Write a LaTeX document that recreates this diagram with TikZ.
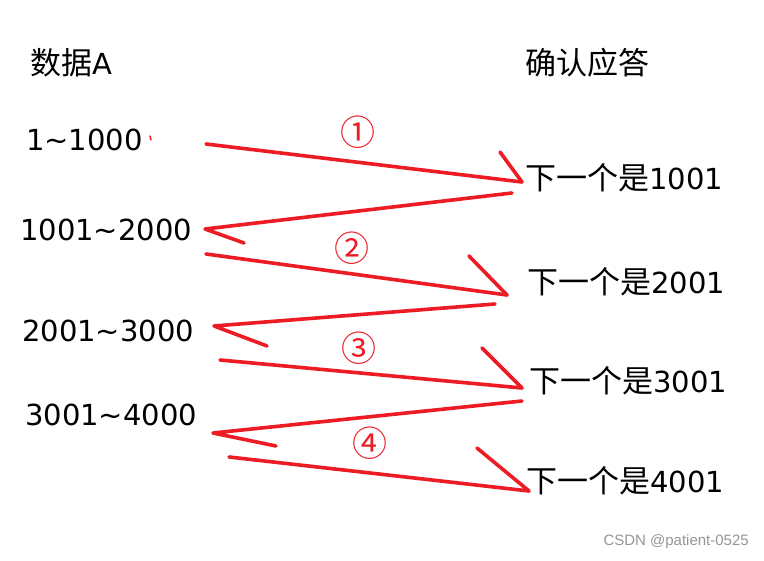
\documentclass[tikz,border=0pt]{standalone}
\usepackage{fontspec}
\setmainfont{Noto Sans CJK SC}
\newfontfamily\latf{DejaVu Sans}
\newfontfamily\wmfont{Liberation Sans}
\newcommand{\lt}[1]{{\latf\fontsize{29}{32}\selectfont #1}}
\definecolor{pen}{RGB}{237,28,36}
\definecolor{wm}{RGB}{150,150,150}
\tikzset{
  lbl/.style={inner sep=0pt, anchor=west, font=\fontsize{31}{34}\selectfont},
  circnum/.style={inner sep=0pt, text=pen, font=\fontsize{35}{38}\selectfont},
  stroke/.style={draw=pen, line width=3.6pt, line cap=round, line join=round},
}
\begin{document}
\begin{tikzpicture}[x=1pt,y=-1pt]
\useasboundingbox[fill=white] (0,0) rectangle (764,561);
% headings
\node[lbl] (hA) at (30,63) {数据\lt{A}};
\node[lbl] (hB) at (525,63) {确认应答};
% left labels
\node[lbl] (l1) at (26,140) {\lt{1\char"007E 1000}};
\node[lbl] (l2) at (20,230) {\lt{1001\char"007E 2000}};
\node[lbl] (l3) at (22,331) {\lt{2001\char"007E 3000}};
\node[lbl] (l4) at (25,415) {\lt{3001\char"007E 4000}};
% right labels
\node[lbl] (r1) at (525,178) {下一个是\lt{1001}};
\node[lbl] (r2) at (527,282) {下一个是\lt{2001}};
\node[lbl] (r3) at (529,381) {下一个是\lt{3001}};
\node[lbl] (r4) at (526,481) {下一个是\lt{4001}};
% circled numbers
\node[circnum] (c1) at (358,132) {①};
\node[circnum] (c2) at (352,248) {②};
\node[circnum] (c3) at (359,348) {③};
\node[circnum] (c4) at (370,443) {④};
% watermark
\node[inner sep=0pt, anchor=east, text=wm, font=\wmfont\fontsize{15}{17}\selectfont] (wmk) at (749,542) {CSDN @patient-0525};
% connector points
\coordinate (s1) at (206,144); \coordinate (e1) at (522,182); \coordinate (h1) at (500,152);
\coordinate (s1b) at (512,193); \coordinate (e1b) at (205,229); \coordinate (h1b) at (244,243);
\coordinate (s2) at (206,254); \coordinate (e2) at (507,295); \coordinate (h2) at (469,256);
\coordinate (s2b) at (495,304); \coordinate (e2b) at (214,326); \coordinate (h2b) at (267,346);
\coordinate (s3) at (220,360); \coordinate (e3) at (522,388); \coordinate (h3) at (482,348);
\coordinate (s3b) at (522,401); \coordinate (e3b) at (213,433); \coordinate (h3b) at (276,446);
\coordinate (s4) at (229,457); \coordinate (e4) at (529,491); \coordinate (h4) at (477,448);
\coordinate (t1) at (150,136); \coordinate (t2) at (151,140);
% arrows
\draw[stroke] (s1) -- (e1); \draw[stroke] (h1) -- (e1);
\draw[stroke] (s1b) -- (e1b) -- (h1b);
\draw[stroke] (s2) -- (e2); \draw[stroke] (h2) -- (e2);
\draw[stroke] (s2b) -- (e2b) -- (h2b);
\draw[stroke] (s3) -- (e3); \draw[stroke] (h3) -- (e3);
\draw[stroke] (s3b) -- (e3b) -- (h3b);
\draw[stroke] (s4) -- (e4); \draw[stroke] (h4) -- (e4);
\draw[draw=pen, line width=1.5pt, line cap=round] (t1) -- (t2);
\end{tikzpicture}
\end{document}
